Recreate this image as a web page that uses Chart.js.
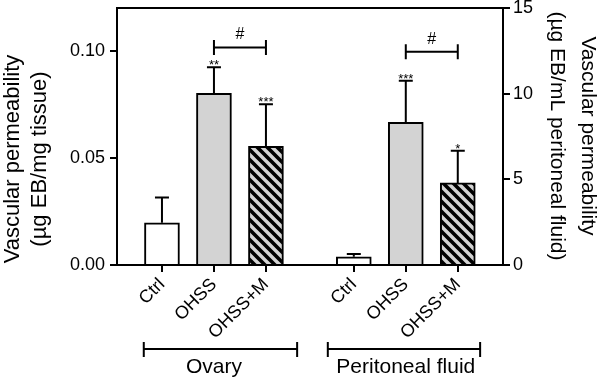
<!DOCTYPE html>
<html>
<head>
<meta charset="utf-8">
<script src="https://cdn.jsdelivr.net/npm/chart.js@4.4.0/dist/chart.umd.min.js"></script>
<style>
  html, body { margin: 0; padding: 0; background: #fff; }
</style>
</head>
<body>
<canvas id="permChart" width="600" height="377"></canvas>
<script>
const treatments = ["Ctrl", "OHSS", "OHSS+M"];
const groups = ["Ovary", "Peritoneal fluid"];

const ovaryMean = [0.0197, 0.0801, 0.0554];
const ovarySem = [0.0118, 0.0122, 0.0197];
const fluidMean = [0.48, 8.33, 4.79];
const fluidSem = [0.16, 2.43, 1.88];

const ovaryStars = ["", "**", "***"];
const fluidStars = ["", "***", "*"];
const hashLevel = [0.1016, 12.45];

const ovaryTicks = [0, 0.05, 0.1];
const fluidTicks = [0, 5, 10, 15];

// layout
const groupShift = 3.69;
const font = "'Liberation Sans', Arial, sans-serif";
Chart.defaults.font.family = font;
Chart.defaults.color = "#000";

function xAt(g, i) {
  return 1 + g * groupShift + i;
}

const xTicks = [];
const xLabels = [];
groups.forEach((g, gi) => {
  treatments.forEach((t, ti) => {
    xTicks.push(xAt(gi, ti));
    xLabels.push(t);
  });
});

function stripes() {
  const c = document.createElement("canvas");
  c.width = 10;
  c.height = 10;
  const g = c.getContext("2d");
  g.fillStyle = "#d3d3d3";
  g.fillRect(0, 0, 10, 10);
  g.strokeStyle = "#000";
  g.lineWidth = 3.6;
  g.beginPath();
  g.moveTo(-5, -5); g.lineTo(15, 15);
  g.moveTo(-5, 5); g.lineTo(5, 15);
  g.moveTo(5, -5); g.lineTo(15, 5);
  g.stroke();
  return g.createPattern(c, "repeat");
}

const fills = ["#ffffff", "#d3d3d3", stripes()];

const axisGrid = {
  drawOnChartArea: false,
  offset: false,
  color: "#000",
  lineWidth: 2,
  tickLength: 7,
};

function noPad(s) {
  s.paddingTop = 0;
  s.paddingBottom = 0;
}

const extras = {
  id: "extras",
  afterDatasetsDraw(chart) {
    const c = chart.ctx;
    const a = chart.chartArea;
    c.save();
    c.strokeStyle = "#000";
    c.fillStyle = "#000";
    c.lineWidth = 2;

    // top of the frame
    c.beginPath();
    c.moveTo(a.left - 1, a.top);
    c.lineTo(a.right + 1, a.top);
    c.stroke();

    const sets = [
      { mean: ovaryMean, sem: ovarySem, stars: ovaryStars, scale: chart.scales.y },
      { mean: fluidMean, sem: fluidSem, stars: fluidStars, scale: chart.scales.y1 },
    ];

    sets.forEach((s, d) => {
      const bars = chart.getDatasetMeta(d).data;
      bars.forEach((bar, i) => {
        const top = s.scale.getPixelForValue(s.mean[i] + s.sem[i]);
        c.beginPath();
        c.moveTo(bar.x, bar.y);
        c.lineTo(bar.x, top);
        c.moveTo(bar.x - 7, top);
        c.lineTo(bar.x + 7, top);
        c.stroke();
        if (s.stars[i]) {
          c.font = "13px " + font;
          c.textAlign = "center";
          c.textBaseline = "alphabetic";
          c.fillText(s.stars[i], bar.x, top + 2);
        }
      });

      // OHSS vs OHSS+M
      const y = s.scale.getPixelForValue(hashLevel[d]);
      const x1 = bars[1].x;
      const x2 = bars[2].x;
      c.beginPath();
      c.moveTo(x1, y); c.lineTo(x2, y);
      c.moveTo(x1, y - 7.5); c.lineTo(x1, y + 7.5);
      c.moveTo(x2, y - 7.5); c.lineTo(x2, y + 7.5);
      c.stroke();
      c.font = "16px " + font;
      c.textAlign = "center";
      c.textBaseline = "alphabetic";
      c.fillText("#", (x1 + x2) / 2, y - 8);
    });

    // group brackets under the axis
    const xs = chart.scales.x;
    const spans = [[-1.35, 1.6], [-1.5, 1.43]];
    groups.forEach((g, gi) => {
      const mid = xAt(gi, 1);
      const l = xs.getPixelForValue(mid + spans[gi][0]);
      const r = xs.getPixelForValue(mid + spans[gi][1]);
      const y = 349;
      c.beginPath();
      c.moveTo(l, y); c.lineTo(r, y);
      c.moveTo(l, y - 7); c.lineTo(l, y + 8);
      c.moveTo(r, y - 7); c.lineTo(r, y + 8);
      c.stroke();
      c.font = "21px " + font;
      c.textAlign = "center";
      c.textBaseline = "middle";
      c.fillText(g, xs.getPixelForValue(mid), 367);
    });

    // axis titles
    c.font = "22px " + font;
    c.textAlign = "center";
    c.textBaseline = "middle";
    c.save();
    c.translate(13, 159);
    c.rotate(-Math.PI / 2);
    c.fillText("Vascular permeability", 0, 0);
    c.fillText("(\u00b5g EB/mg tissue)", 0, 27);
    c.restore();
    c.font = "21px " + font;
    c.save();
    c.translate(588, 136);
    c.rotate(Math.PI / 2);
    c.fillText("Vascular permeability", 0, 0);
    c.fillText("(\u00b5g EB/mL peritoneal fluid)", 0, 31);
    c.restore();

    c.restore();
  },
};

new Chart(document.getElementById("permChart"), {
  type: "bar",

  data: {
    datasets: [
      {
        label: groups[0],
        yAxisID: "y",
        data: ovaryMean.map((v, i) => ({ x: xAt(0, i), y: v })),
        backgroundColor: fills,
        borderColor: "#000",
        borderWidth: 2,
        grouped: false,
        barThickness: 35,
      },
      {
        label: groups[1],
        yAxisID: "y1",
        data: fluidMean.map((v, i) => ({ x: xAt(1, i), y: v })),
        backgroundColor: fills,
        borderColor: "#000",
        borderWidth: 2,
        grouped: false,
        barThickness: 35,
      },
    ],
  },

  options: {
    responsive: false,
    animation: false,

    layout: {
      padding: { top: 8 },
    },

    plugins: {
      legend: { display: false },
      tooltip: { enabled: false },
    },

    scales: {
      x: {
        type: "linear",
        offset: false,
        min: 0.135,
        max: 7.56,
        afterBuildTicks: (s) => {
          s.ticks = xTicks.map((v) => ({ value: v }));
        },
        afterFit: (s) => {
          s.height = 112;
          s.paddingLeft = 0;
          s.paddingRight = 0;
        },
        ticks: {
          autoSkip: false,
          minRotation: 45,
          maxRotation: 45,
          padding: 2,
          font: { size: 18 },
          callback: (v, i) => xLabels[i],
        },
        grid: axisGrid,
        border: { color: "#000", width: 2 },
      },

      y: {
        position: "left",
        min: 0,
        max: 0.12,
        afterBuildTicks: (s) => {
          s.ticks = ovaryTicks.map((v) => ({ value: v }));
        },
        afterFit: (s) => {
          s.width = 117;
          noPad(s);
        },
        ticks: {
          padding: 5,
          font: { size: 18 },
          callback: (v) => v.toFixed(2),
        },
        grid: axisGrid,
        border: { color: "#000", width: 2 },
      },

      y1: {
        position: "right",
        min: 0,
        max: 15,
        afterBuildTicks: (s) => {
          s.ticks = fluidTicks.map((v) => ({ value: v }));
        },
        afterFit: (s) => {
          s.width = 97;
          noPad(s);
        },
        ticks: {
          padding: 3,
          font: { size: 18 },
        },
        grid: axisGrid,
        border: { color: "#000", width: 2 },
      },
    },
  },

  plugins: [extras],
});
</script>
</body>
</html>
